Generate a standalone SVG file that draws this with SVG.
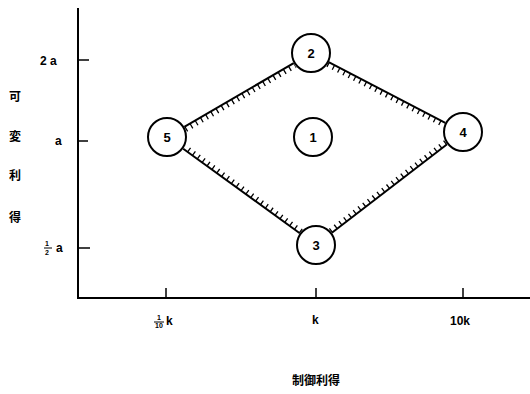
<svg xmlns="http://www.w3.org/2000/svg" width="530" height="394" viewBox="0 0 530 394">
<style>
.ax{stroke:#000;stroke-width:2;fill:none}
.tk{stroke:#000;stroke-width:1.5}
.edge{stroke:#000;stroke-width:2;fill:none}
.hatch{stroke:#000;stroke-width:5;stroke-dasharray:1.3 4.7;fill:none}
.nd circle{fill:#fff;stroke:#000;stroke-width:2}
.nd text{font-family:"Liberation Sans",Arial,sans-serif;font-size:13px;font-weight:bold;text-anchor:middle}
.lb{font-family:"Liberation Sans",Arial,sans-serif;font-size:12px;font-weight:bold}
.sm{font-size:7px}
.cjk{font-family:"Noto Sans CJK JP","Noto Sans CJK SC",sans-serif;font-size:12px;font-weight:bold;text-anchor:middle}
</style>
<rect width="530" height="394" fill="#fff"/>
<g id="axes">
<line class="ax" x1="78" y1="8" x2="78" y2="299"/>
<line class="ax" x1="77" y1="298" x2="530" y2="298"/>
<line class="tk" x1="78" y1="60" x2="89" y2="60"/>
<line class="tk" x1="78" y1="141" x2="88" y2="141"/>
<line class="tk" x1="78" y1="248" x2="90" y2="248"/>
<line class="tk" x1="166" y1="288" x2="166" y2="298"/>
<line class="tk" x1="316" y1="288" x2="316" y2="298"/>
<line class="tk" x1="463" y1="288" x2="463" y2="298"/>
</g>
<g id="labels">
<text class="lb" x="40" y="65">2 a</text>
<text class="lb" x="55" y="145">a</text>
<text class="lb"><tspan class="sm" x="45" y="246">1</tspan><tspan class="sm" x="45" y="255">2</tspan><tspan x="56" y="252">a</tspan></text>
<line x1="44" y1="248" x2="52" y2="248" stroke="#000" stroke-width="1"/>
<text class="lb"><tspan class="sm" x="157" y="320">1</tspan><tspan class="sm" x="155" y="328">10</tspan><tspan x="166" y="325">k</tspan></text>
<line x1="154" y1="322" x2="164" y2="322" stroke="#000" stroke-width="1"/>
<text class="lb" x="312" y="324">k</text>
<text class="lb" x="450" y="325">10k</text>
<text class="cjk" x="15" y="101">可</text>
<text class="cjk" x="15" y="141">変</text>
<text class="cjk" x="15" y="180">利</text>
<text class="cjk" x="15" y="222">得</text>
<text class="cjk" x="316" y="385">制御利得</text>
</g>
<g id="connectors">
<line class="edge" x1="184.3" y1="126.9" x2="293.7" y2="63.1"/>
<line class="hatch" x1="185.8" y1="129.5" x2="295.2" y2="65.7"/>
<line class="edge" x1="328.7" y1="62.2" x2="445.3" y2="122.8"/>
<line class="hatch" x1="327.5" y1="64.4" x2="444.1" y2="125"/>
<line class="edge" x1="447.1" y1="144.2" x2="331.9" y2="232.8"/>
<line class="hatch" x1="445.6" y1="142.2" x2="330.4" y2="230.8"/>
<line class="edge" x1="299.8" y1="233.3" x2="183.2" y2="148.7"/>
<line class="hatch" x1="301.3" y1="231.3" x2="184.7" y2="146.7"/>
</g>
<g id="node1" class="nd"><circle cx="313" cy="137" r="19"/><text x="313" y="142">1</text></g>
<g id="node2" class="nd"><circle cx="311" cy="53" r="19"/><text x="311" y="58">2</text></g>
<g id="node3" class="nd"><circle cx="316" cy="245" r="19"/><text x="316" y="250">3</text></g>
<g id="node4" class="nd"><circle cx="463" cy="132" r="19"/><text x="463" y="137">4</text></g>
<g id="node5" class="nd"><circle cx="167" cy="137" r="19"/><text x="167" y="142">5</text></g>
</svg>
